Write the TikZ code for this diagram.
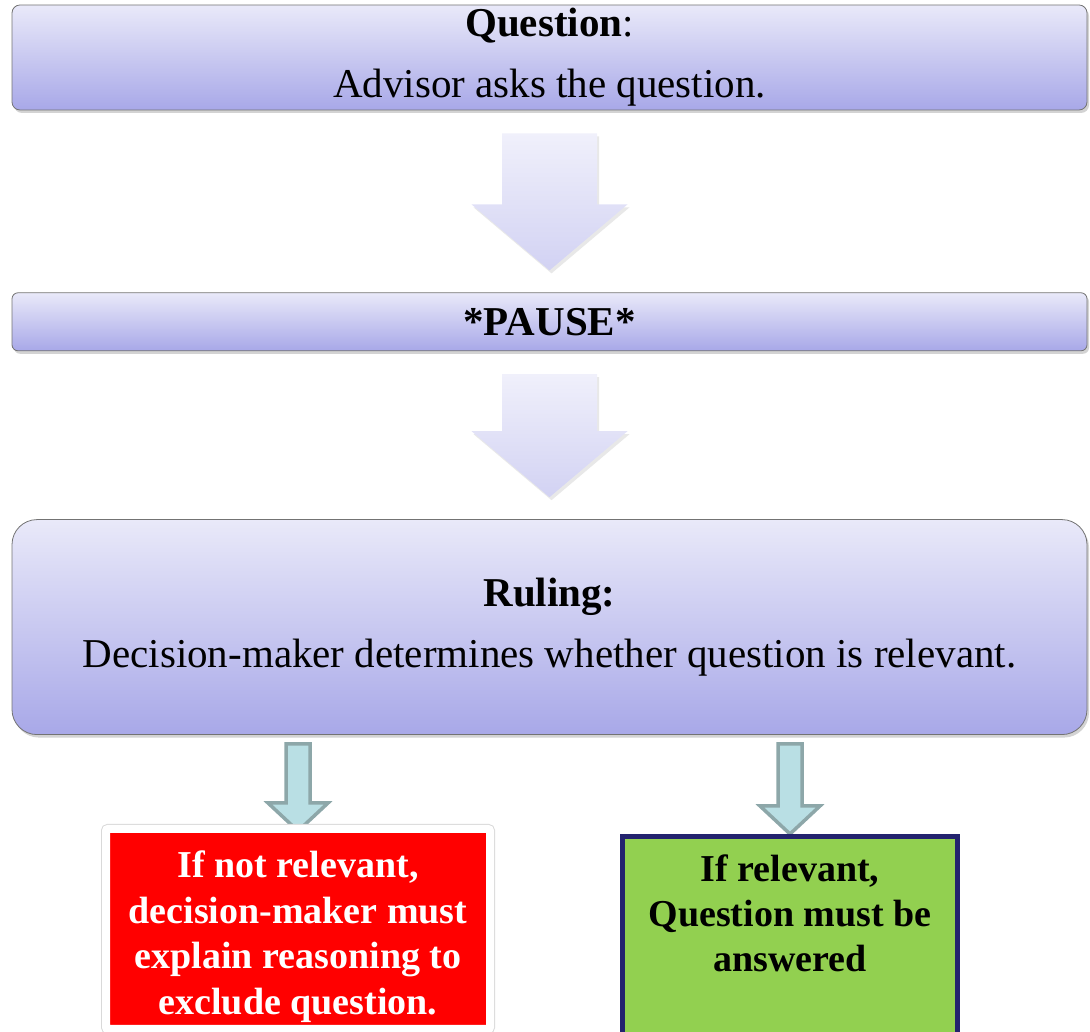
\documentclass[tikz,border=0pt]{standalone}
\usepackage{fontspec}
\setmainfont{Liberation Serif}
\usetikzlibrary{calc, positioning, shadows, backgrounds}
\definecolor{stagetop}{HTML}{E9E9F9}
\definecolor{stagebot}{HTML}{A8A8E8}
\definecolor{flowtop}{HTML}{F0F0FB}
\definecolor{flowbot}{HTML}{D2D2F3}
\definecolor{branchfill}{HTML}{B9DFE4}
\definecolor{branchline}{HTML}{8DA7A9}
\definecolor{relgreen}{HTML}{92D050}
\definecolor{relnavy}{HTML}{23236E}

\begin{document}
\begin{tikzpicture}[
    x=1pt, y=1pt,
    node distance=182pt,
    stage/.style={rectangle, rounded corners=#1, draw=black!55, line width=0.8pt,
                  top color=stagetop, bottom color=stagebot, minimum width=1075pt,
                  align=center, font=\fontsize{41}{61}\selectfont,
                  drop shadow={shadow xshift=2pt, shadow yshift=-3pt, opacity=0.35}},
    flowarrow/.style={top color=flowtop, bottom color=flowbot,
                  drop shadow={shadow xshift=2pt, shadow yshift=-3pt, opacity=0.18}},
    branch/.style={fill=branchfill, draw=branchline, line width=3.5pt, miter limit=20},
    notrelbox/.style={rectangle, rounded corners=2pt, fill=red, draw=white, line width=8pt,
                  preaction={draw=black!15, line width=10pt},
                  minimum width=384pt, minimum height=200pt, text=white, align=center,
                  font=\bfseries\fontsize{38}{45.5}\selectfont},
    relbox/.style={rectangle, fill=relgreen, draw=relnavy, line width=5pt,
                  minimum width=335pt, minimum height=208.5pt, align=center,
                  font=\bfseries\fontsize{38}{45}\selectfont}
  ]
    \useasboundingbox (0,0) rectangle (1090,1032);

    % main steps
    \node[stage=8pt, minimum height=105pt] (question) at (549.5,974.5)
      {\textbf{Question}:\\Advisor asks the question.};
    \node[stage=6pt, minimum height=58pt, below=182pt of question] (pause) {\textbf{*PAUSE*}};
    \node[stage=25pt, minimum height=215pt, below=168pt of pause] (ruling)
      {\textbf{Ruling:}\\Decision-maker determines whether question is relevant.};

    % outcomes
    \node[notrelbox] (notrel) at (298,103)
      {\rule{0pt}{42pt}If not relevant,\\decision-maker must\\explain reasoning to\\exclude question.};
    \node[relbox] (rel) at (790,91.25)
      {If relevant,\\Question must be\\answered\\[10pt]\mbox{}};

    % block arrows between steps
    \foreach \from/\to in {question/pause, pause/ruling} {
      \coordinate (\from top) at ($(\from.south)+(0,-23)$);
      \coordinate (\from tip) at ($(\to.north)+(0,22)$);
      \path[flowarrow] ($(\from top)+(-47.5,0)$) -- ($(\from top)+(47.5,0)$)
        -- ($(\from tip)+(47.5,66)$) -- ($(\from tip)+(78,66)$) -- (\from tip)
        -- ($(\from tip)+(-78,66)$) -- ($(\from tip)+(-47.5,66)$) -- cycle;
    }

    % branch arrows
    \begin{scope}[on background layer]
      \foreach \target/\dip in {notrel/6, rel/0} {
        \coordinate (\target top) at ($(ruling.south -| \target)+(0,-9)$);
        \coordinate (\target tip) at ($(\target.north)+(0,-\dip)$);
        \draw[branch] ($(\target top)+(-12,0)$) -- ($(\target top)+(12,0)$)
          -- ($(\target tip)+(12,28)$) -- ($(\target tip)+(30,28)$) -- (\target tip)
          -- ($(\target tip)+(-30,28)$) -- ($(\target tip)+(-12,28)$) -- cycle;
      }
    \end{scope}
  \end{tikzpicture}
\end{document}
